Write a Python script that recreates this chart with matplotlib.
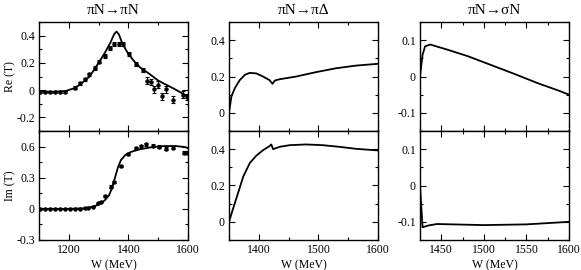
import matplotlib
matplotlib.use('Agg')
import matplotlib.pyplot as plt
from matplotlib.ticker import MultipleLocator

plt.rcParams['font.family'] = ['Liberation Serif', 'DejaVu Serif']

# pi N -> pi N, Re(T): model curve
w_nn_re = [1100, 1150, 1190, 1220, 1240, 1270, 1300, 1320, 1340, 1352, 1360, 1368,
           1380, 1400, 1420, 1440, 1470, 1500, 1540, 1570, 1600]
nn_re = [-0.01, -0.012, -0.006, 0.015, 0.045, 0.10, 0.20, 0.27, 0.35, 0.41, 0.43, 0.41,
         0.34, 0.265, 0.21, 0.165, 0.12, 0.07, 0.025, -0.01, -0.05]
# pi N -> pi N, Re(T): data
w_nn_re_d = [1103, 1120, 1137, 1153, 1170, 1187, 1220, 1237, 1253, 1268, 1287, 1303,
             1320, 1337, 1351, 1368, 1381, 1403, 1426, 1448, 1461, 1476, 1487, 1501,
             1512, 1526, 1548, 1584, 1598]
nn_re_d = [-0.012, -0.015, -0.015, -0.012, -0.015, -0.015, 0.017, 0.05, 0.078, 0.115,
           0.163, 0.21, 0.25, 0.31, 0.34, 0.34, 0.34, 0.265, 0.19, 0.145, 0.07, 0.06,
           0.005, 0.04, -0.045, 0.005, -0.07, -0.035, -0.05]
nn_re_e = [0.008, 0.008, 0.008, 0.008, 0.008, 0.008, 0.01, 0.01, 0.01, 0.01, 0.012,
           0.012, 0.012, 0.015, 0.015, 0.015, 0.015, 0.015, 0.015, 0.015, 0.025, 0.025,
           0.025, 0.025, 0.025, 0.025, 0.025, 0.025, 0.025]

# pi N -> pi N, Im(T)
w_nn_im = [1100, 1200, 1250, 1280, 1300, 1320, 1335, 1345, 1355, 1365, 1375, 1390,
           1410, 1440, 1480, 1520, 1560, 1590, 1600]
nn_im = [0.0, 0.0, 0.005, 0.02, 0.04, 0.08, 0.13, 0.2, 0.3, 0.4, 0.47, 0.52,
         0.55, 0.575, 0.595, 0.605, 0.605, 0.595, 0.585]
w_nn_im_d = [1103, 1120, 1137, 1153, 1170, 1187, 1203, 1220, 1237, 1253, 1265, 1281,
             1298, 1309, 1320, 1342, 1353, 1376, 1398, 1426, 1442, 1459, 1481, 1503,
             1526, 1548, 1587, 1598]
nn_im_d = [0.0, 0.0, 0.0, 0.0, 0.0, 0.0, 0.0, 0.0, 0.003, 0.006, 0.012, 0.022,
           0.055, 0.07, 0.12, 0.215, 0.255, 0.416, 0.532, 0.587, 0.603, 0.62, 0.61,
           0.597, 0.578, 0.587, 0.54, 0.54]
nn_im_e = [0.005] * 14 + [0.01] * 6 + [0.015] * 8

# pi N -> pi Delta
w_nd = [1350, 1354, 1360, 1368, 1377, 1385, 1396, 1407, 1418, 1423, 1427, 1435,
        1463, 1496, 1529, 1563, 1600]
nd_re = [0.0, 0.09, 0.137, 0.18, 0.21, 0.22, 0.217, 0.2, 0.18, 0.16, 0.178, 0.185,
         0.2, 0.224, 0.245, 0.26, 0.27]
w_nd_i = [1350, 1357, 1366, 1374, 1385, 1396, 1407, 1418, 1421, 1424, 1435, 1452,
          1479, 1507, 1535, 1563, 1600]
nd_im = [0.0, 0.074, 0.167, 0.25, 0.324, 0.365, 0.394, 0.417, 0.426, 0.40, 0.413,
         0.422, 0.426, 0.422, 0.413, 0.402, 0.393]

# pi N -> sigma N
w_ns = [1425, 1428, 1431, 1437, 1457, 1481, 1508, 1536, 1564, 1588, 1600]
ns_re = [0.0, 0.06, 0.083, 0.088, 0.074, 0.056, 0.032, 0.007, -0.019, -0.039, -0.05]
w_ns_i = [1425, 1428, 1435, 1445, 1500, 1550, 1600]
ns_im = [0.0, -0.115, -0.11, -0.106, -0.109, -0.107, -0.1]

titles = ['πN→πN', 'πN→πΔ', 'πN→σN']

fig = plt.figure(figsize=(5.81, 2.70), dpi=100)
lefts = [39 / 581, 229 / 581, 420 / 581]
width = 149 / 581
y_mid = 1 - 131 / 270
y_bot = 1 - 240 / 270
y_top = 1 - 22 / 270
h_top = y_top - y_mid
h_bot = y_mid - y_bot

xlims = [(1100, 1600), (1350, 1600), (1425, 1600)]
xmaj = [200, 100, 50]
xmin = [100, 50, 25]
ylims_top = [(-0.3, 0.5), (-0.1, 0.5), (-0.15, 0.15)]
ylims_bot = [(-0.3, 0.75), (-0.1, 0.5), (-0.15, 0.15)]
ymaj_top = [0.2, 0.2, 0.1]
ymaj_bot = [0.3, 0.2, 0.1]

axes_top = []
axes_bot = []
for i in range(3):
    at = fig.add_axes([lefts[i], y_mid, width, h_top])
    ab = fig.add_axes([lefts[i], y_bot, width, h_bot])
    for ax, yl, ym in ((at, ylims_top[i], ymaj_top[i]), (ab, ylims_bot[i], ymaj_bot[i])):
        ax.set_xlim(*xlims[i])
        ax.set_ylim(*yl)
        ax.xaxis.set_major_locator(MultipleLocator(xmaj[i]))
        ax.xaxis.set_minor_locator(MultipleLocator(xmin[i]))
        ax.yaxis.set_major_locator(MultipleLocator(ym))
        ax.yaxis.set_minor_locator(MultipleLocator(ym / 2))
        ax.tick_params(which='both', direction='in', top=True, right=True,
                       labelsize=8.5, pad=3)
        ax.tick_params(which='major', length=4, width=0.8)
        ax.tick_params(which='minor', length=2, width=0.8)
        for s in ax.spines.values():
            s.set_linewidth(1.0)
        ax.yaxis.set_major_formatter(plt.FuncFormatter(
            lambda v, p: '0' if abs(v) < 1e-9 else ('%g' % round(v, 3))))
    at.tick_params(labelbottom=False)
    at.set_title(titles[i], fontsize=11, pad=6)
    ab.set_xlabel('W (MeV)', fontsize=8.5, labelpad=2)
    axes_top.append(at)
    axes_bot.append(ab)

lw = 1.3
axes_top[0].plot(w_nn_re, nn_re, color='black', lw=lw)
axes_top[0].errorbar(w_nn_re_d, nn_re_d, yerr=nn_re_e, fmt='o', ms=2.2, color='black',
                     elinewidth=0.8, capsize=1.5, capthick=0.8)
axes_bot[0].plot(w_nn_im, nn_im, color='black', lw=lw)
axes_bot[0].errorbar(w_nn_im_d, nn_im_d, yerr=nn_im_e, fmt='o', ms=2.2, color='black',
                     elinewidth=0.8, capsize=1.5, capthick=0.8)
axes_top[0].set_ylabel('Re (T)', fontsize=8.5)
axes_bot[0].set_ylabel('Im (T)', fontsize=8.5)
axes_top[0].yaxis.set_label_coords(-0.155, 0.5)
axes_bot[0].yaxis.set_label_coords(-0.155, 0.5)

axes_top[1].plot(w_nd, nd_re, color='black', lw=lw)
axes_bot[1].plot(w_nd_i, nd_im, color='black', lw=lw)

axes_top[2].plot(w_ns, ns_re, color='black', lw=lw)
axes_bot[2].plot(w_ns_i, ns_im, color='black', lw=lw)

fig.savefig('out.png', dpi=100)
